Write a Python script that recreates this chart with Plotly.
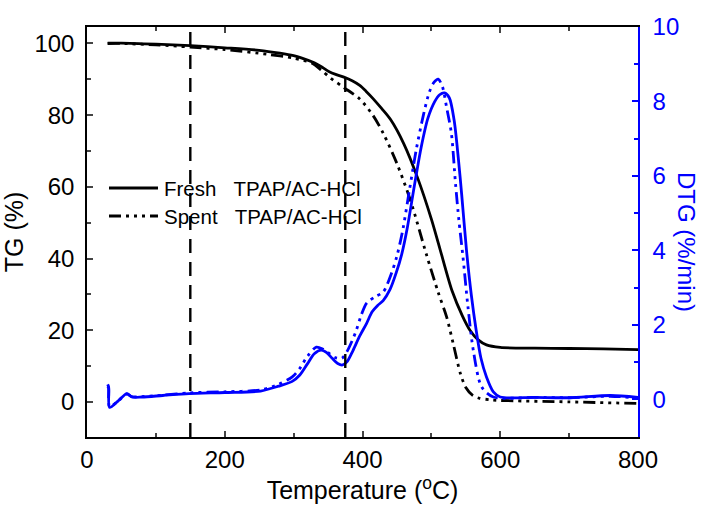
import plotly.graph_objects as go

# TG data (%)
T_tg_fresh = [30, 50, 100, 150, 200, 250, 280, 300, 311, 330, 342, 351, 362, 373, 385, 396, 405, 415, 428, 441, 460, 480, 500, 512, 530, 545, 556, 568, 580, 600, 650, 700, 750, 800]
TG_fresh   = [100.1, 100.1, 99.8, 99.4, 98.8, 98.1, 97.3, 96.6, 96.0, 94.6, 93.3, 92.2, 91.3, 90.6, 89.6, 88.3, 86.7, 84.7, 81.8, 78.7, 72, 62.5, 51, 43, 31, 24, 20, 17.3, 15.9, 15.2, 15.0, 14.9, 14.8, 14.6]

T_tg_spent = [30, 50, 100, 150, 200, 265, 300, 327, 340, 354, 373, 396, 415, 430, 450, 470, 493, 510, 522, 532, 542, 550, 560, 570, 585, 600, 700, 800]
TG_spent   = [100, 100, 99.6, 99.0, 98.3, 96.9, 95.9, 94.5, 92.6, 90.3, 87.7, 84.5, 80, 75, 66.5, 56, 41, 30.5, 23.8, 16, 8, 4, 1.8, 1.0, 0.6, 0.4, 0.0, -0.45]

# DTG data (%/min)
T_dtg_fresh = [30, 31.4, 32.8, 45, 58, 65, 80, 110, 148, 200, 252, 278, 298, 309, 320, 330, 340, 348, 356, 364, 371, 378, 386, 396, 406, 414, 422, 430, 440, 449, 457, 465, 475, 485, 495, 505, 512, 519, 526, 533, 539, 544, 551, 558, 565, 572, 580, 590, 600, 650, 700, 760, 800]
DTG_fresh   = [0.4, 0.33, -0.22, -0.05, 0.15, 0.06, 0.06, 0.1, 0.15, 0.18, 0.22, 0.35, 0.48, 0.65, 0.95, 1.22, 1.32, 1.25, 1.1, 0.96, 0.92, 1.02, 1.3, 1.7, 2.04, 2.35, 2.52, 2.65, 2.95, 3.4, 3.9, 4.6, 5.7, 6.75, 7.55, 8.0, 8.18, 8.23, 8.1, 7.5, 6.5, 5.5, 4.0, 2.8, 1.86, 1.1, 0.6, 0.2, 0.06, 0.05, 0.04, 0.1, 0.05]

T_dtg_spent = [30, 31.4, 32.8, 45, 58, 65, 80, 110, 148, 200, 252, 278, 298, 309, 320, 333, 342, 350, 360, 370, 378, 390, 398, 406, 418, 430, 442, 450, 458, 468, 478, 488, 497, 504, 510, 516, 522, 529, 535, 540, 546, 553, 561, 573, 590, 650, 700, 760, 800]
DTG_spent   = [0.35, 0.3, -0.2, -0.05, 0.14, 0.07, 0.07, 0.11, 0.17, 0.2, 0.25, 0.4, 0.6, 0.83, 1.15, 1.4, 1.35, 1.25, 1.12, 1.1, 1.3, 1.8, 2.25, 2.58, 2.75, 2.88, 3.38, 3.85, 4.5, 5.6, 6.7, 7.6, 8.25, 8.52, 8.6, 8.4, 7.85, 7.15, 5.8, 4.8, 3.8, 2.5, 1.3, 0.33, 0.06, 0.05, 0.04, 0.08, 0.03]

vlines_T = [150, 375]
x_ticks = [0, 200, 400, 600, 800]
y_ticks = [0, 20, 40, 60, 80, 100]
y2_ticks = [0, 2, 4, 6, 8, 10]
legend_names = ["Fresh\u00a0\u00a0\u00a0TPAP/AC-HCl", "Spent\u00a0\u00a0\u00a0TPAP/AC-HCl"]

FONT = "Liberation Sans, Arial, sans-serif"
BLUE = "#0000FF"
DASHDOT = "12px,5px,3px,5px,3px,5px,3px,5px"
LW = 2.8
TICK_FS = 24
TITLE_FS = 25

def f(size=TICK_FS, color="black"):
    return dict(family=FONT, size=size, color=color)

fig = go.Figure()
fig.add_trace(go.Scatter(x=T_tg_fresh, y=TG_fresh, mode="lines", name=legend_names[0],
                         line=dict(color="black", width=LW, shape="spline", smoothing=0.8)))
fig.add_trace(go.Scatter(x=T_tg_spent, y=TG_spent, mode="lines", name=legend_names[1],
                         line=dict(color="black", width=LW, dash=DASHDOT, shape="spline", smoothing=0.8)))
fig.add_trace(go.Scatter(x=T_dtg_spent, y=DTG_spent, mode="lines", yaxis="y2",
                         line=dict(color=BLUE, width=LW, dash=DASHDOT, shape="spline", smoothing=0.8)))
fig.add_trace(go.Scatter(x=T_dtg_fresh, y=DTG_fresh, mode="lines", yaxis="y2",
                         line=dict(color=BLUE, width=LW, shape="spline", smoothing=0.8)))

# legend drawn in paper coordinates (longer line samples like the original)
L, R, T, B = 87, 66, 27, 75
PW, PH = 704 - L - R, 512 - T - B
def px(xp): return (xp - L) / PW
def py(yp): return 1 - (yp - T) / PH

annos = []
for i, (name, yy) in enumerate(zip(legend_names, [188, 216])):
    fig.add_shape(type="line", xref="paper", yref="paper", x0=px(109), x1=px(158), y0=py(yy), y1=py(yy),
                  line=dict(color="black", width=LW, dash="solid" if i == 0 else DASHDOT))
    annos.append(dict(text=name, xref="paper", yref="paper", x=px(162), y=py(yy), xanchor="left", yanchor="middle",
                      showarrow=False, font=f(20.5)))

annos.append(dict(text="DTG (%/min)", xref="paper", yref="paper", x=1, y=py(242), xshift=49,
                  xanchor="center", yanchor="middle", textangle=90, showarrow=False,
                  font=f(24, BLUE)))

for v in vlines_T:
    fig.add_vline(x=v, line=dict(color="black", width=2.4, dash="14px,9px"))

fig.update_layout(
    width=704, height=512,
    margin=dict(l=L, r=R, t=T, b=B),
    plot_bgcolor="white", paper_bgcolor="white",
    font=f(),
    showlegend=False,
    annotations=annos,
    xaxis=dict(range=[0, 800], tickvals=x_ticks, ticks="inside", ticklen=6, tickwidth=1.5,
               showline=True, linecolor="black", linewidth=1.5, mirror="ticks", showgrid=False, zeroline=False,
               minor=dict(dtick=100, ticks="inside", ticklen=4, tickwidth=1.5),
               title=dict(text="Temperature (<sup>o</sup>C)", standoff=10, font=f(TITLE_FS)),
               tickfont=f()),
    yaxis=dict(range=[-9.8, 104.6], tickvals=y_ticks, ticks="inside", ticklen=6, tickwidth=1.5,
               showline=True, linecolor="black", linewidth=1.5, showgrid=False, zeroline=False,
               ticklabelstandoff=6,
               minor=dict(tick0=0, dtick=10, ticks="inside", ticklen=4, tickwidth=1.5),
               title=dict(text="TG (%)", standoff=4, font=f(TITLE_FS)), tickfont=f()),
    yaxis2=dict(range=[-1.015, 10], tickvals=y2_ticks, overlaying="y", side="right", anchor="x",
                ticks="inside", ticklen=6, tickwidth=1.5, tickcolor=BLUE, ticklabelstandoff=8,
                showline=True, linecolor=BLUE, linewidth=1.5, showgrid=False, zeroline=False,
                minor=dict(tick0=0, dtick=1, ticks="inside", ticklen=4, tickwidth=1.5, tickcolor=BLUE),
                tickfont=f(TICK_FS, BLUE)),
)

fig.write_html("out.html")
